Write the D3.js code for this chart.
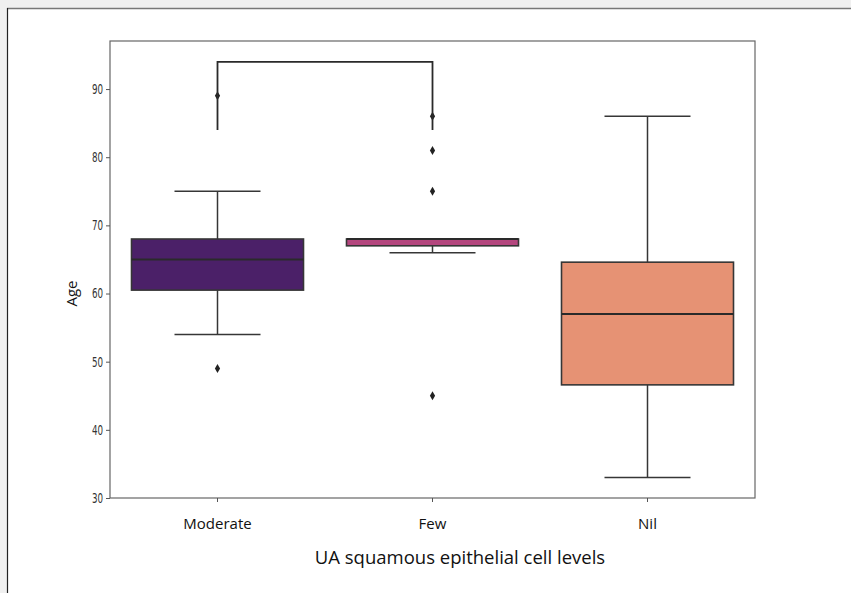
<!DOCTYPE html>
<html>
<head>
<meta charset="utf-8">
<script src="https://cdn.jsdelivr.net/npm/d3@7"></script>
<style>
  html, body { margin: 0; padding: 0; background: #f0f0f0; }
  svg { display: block; }
</style>
</head>
<body>
<svg id="chart" width="851" height="593"></svg>
<script>
'use strict';

// box statistics
var categories = ['Moderate', 'Few', 'Nil'];
var q1Values = [60.5, 67, 46.6];
var medianValues = [65, 68, 57];
var q3Values = [68, 68, 64.6];
var whiskerLow = [54, 66, 33];
var whiskerHigh = [75, 68, 86];
var outliers = [[89, 49], [86, 81, 75, 45], []];
var boxColors = ['#4b2068', '#b4467e', '#e69274'];
var yTicks = [30, 40, 50, 60, 70, 80, 90];
// significance bracket between Moderate and Few
var bracketPair = ['Moderate', 'Few'];
var bracketLow = 84;
var bracketHigh = 94;

var svg = d3.select('#chart');
var W = 851, H = 593;

// white page with a thin frame
svg.append('rect')
  .attr('x', 7).attr('y', 8)
  .attr('width', W - 7).attr('height', H - 8)
  .attr('fill', '#ffffff');
svg.append('line')
  .attr('x1', 7).attr('y1', 8.5).attr('x2', W).attr('y2', 8.5)
  .attr('stroke', '#777').attr('stroke-width', 1.5);
svg.append('line')
  .attr('x1', 7.5).attr('y1', 8).attr('x2', 7.5).attr('y2', H)
  .attr('stroke', '#222').attr('stroke-width', 1.2);

var plot = {left: 110, top: 41, right: 755, bottom: 498};

var x = d3.scaleBand()
  .domain(categories)
  .range([plot.left, plot.right])
  .paddingInner(0)
  .paddingOuter(0);

var y = d3.scaleLinear()
  .domain([30, 97.05])
  .range([plot.bottom, plot.top]);

var boxW = x.bandwidth() * 0.8;
var capW = boxW / 2;
var lineCol = '#363636';

var g = svg.append('g');

// frame of axes
g.append('rect')
  .attr('x', plot.left).attr('y', plot.top)
  .attr('width', plot.right - plot.left)
  .attr('height', plot.bottom - plot.top)
  .attr('fill', 'none')
  .attr('stroke', '#666')
  .attr('stroke-width', 1.2);

// y axis
var yAxis = d3.axisLeft(y).tickValues(yTicks).tickSize(4).tickPadding(3);
var yg = g.append('g')
  .attr('transform', 'translate(' + plot.left + ',0)')
  .call(yAxis);
yg.select('.domain').remove();
yg.selectAll('.tick line').attr('stroke', '#555');
yg.selectAll('.tick text')
  .attr('fill', '#333')
  .style('font-family', '"DejaVu Sans Condensed", "Liberation Sans Narrow", sans-serif')
  .style('font-size', '13.5px')
  .attr('transform', 'scale(0.72,1)')
  .attr('x', -7 / 0.72);

// x axis
var xAxis = d3.axisBottom(x).tickSize(4).tickPadding(16);
var xg = g.append('g')
  .attr('transform', 'translate(0,' + plot.bottom + ')')
  .call(xAxis);
xg.select('.domain').remove();
xg.selectAll('.tick line').attr('stroke', '#555');
xg.selectAll('.tick text')
  .attr('fill', '#111')
  .style('font-family', '"Open Sans", sans-serif')
  .style('font-size', '15px');

// axis titles
g.append('text')
  .attr('x', 460)
  .attr('y', 564)
  .attr('text-anchor', 'middle')
  .attr('fill', '#111')
  .style('font-family', '"Open Sans", sans-serif')
  .style('font-size', '18.5px')
  .text('UA squamous epithelial cell levels');

g.append('text')
  .attr('transform', 'translate(77,' + ((plot.top + plot.bottom) / 2 + 24) + ') rotate(-90)')
  .attr('text-anchor', 'middle')
  .attr('fill', '#111')
  .style('font-family', '"Open Sans", sans-serif')
  .style('font-size', '15px')
  .text('Age');

// boxes
var boxes = g.selectAll('.box')
  .data(categories)
  .enter().append('g')
  .attr('class', 'box')
  .attr('transform', function(d){ return 'translate(' + (x(d) + x.bandwidth() / 2) + ',0)'; });

boxes.append('line')
  .attr('x1', 0).attr('x2', 0)
  .attr('y1', function(d, i){ return y(whiskerLow[i]); })
  .attr('y2', function(d, i){ return y(q1Values[i]); })
  .attr('stroke', lineCol).attr('stroke-width', 1.5);
boxes.append('line')
  .attr('x1', 0).attr('x2', 0)
  .attr('y1', function(d, i){ return y(whiskerHigh[i]); })
  .attr('y2', function(d, i){ return y(q3Values[i]); })
  .attr('stroke', lineCol).attr('stroke-width', 1.5);
boxes.append('line')
  .attr('x1', -capW / 2).attr('x2', capW / 2)
  .attr('y1', function(d, i){ return y(whiskerLow[i]); })
  .attr('y2', function(d, i){ return y(whiskerLow[i]); })
  .attr('stroke', lineCol).attr('stroke-width', 1.5);
boxes.append('line')
  .attr('x1', -capW / 2).attr('x2', capW / 2)
  .attr('y1', function(d, i){ return y(whiskerHigh[i]); })
  .attr('y2', function(d, i){ return y(whiskerHigh[i]); })
  .attr('stroke', lineCol).attr('stroke-width', 1.5);

boxes.append('rect')
  .attr('x', -boxW / 2)
  .attr('width', boxW)
  .attr('y', function(d, i){ return y(q3Values[i]); })
  .attr('height', function(d, i){ return y(q1Values[i]) - y(q3Values[i]); })
  .attr('fill', function(d, i){ return boxColors[i]; })
  .attr('stroke', lineCol)
  .attr('stroke-width', 1.6);

boxes.append('line')
  .attr('x1', -boxW / 2).attr('x2', boxW / 2)
  .attr('y1', function(d, i){ return y(medianValues[i]); })
  .attr('y2', function(d, i){ return y(medianValues[i]); })
  .attr('stroke', '#2a2a2a').attr('stroke-width', 2);

// bracket
var bx1 = x(bracketPair[0]) + x.bandwidth() / 2;
var bx2 = x(bracketPair[1]) + x.bandwidth() / 2;
g.append('path')
  .attr('d', 'M' + bx1 + ',' + y(bracketLow) + 'V' + y(bracketHigh) + 'H' + bx2 + 'V' + y(bracketLow))
  .attr('fill', 'none')
  .attr('stroke', '#2a2a2a')
  .attr('stroke-width', 1.8);

// outlier diamonds
var diamond = 'M0,-4.5L2.6,0L0,4.5L-2.6,0Z';
boxes.each(function(d, i){
  d3.select(this).selectAll('.flier')
    .data(outliers[i])
    .enter().append('path')
    .attr('class', 'flier')
    .attr('d', diamond)
    .attr('transform', function(v){ return 'translate(0,' + y(v) + ')'; })
    .attr('fill', '#222');
});
</script>
</body>
</html>
